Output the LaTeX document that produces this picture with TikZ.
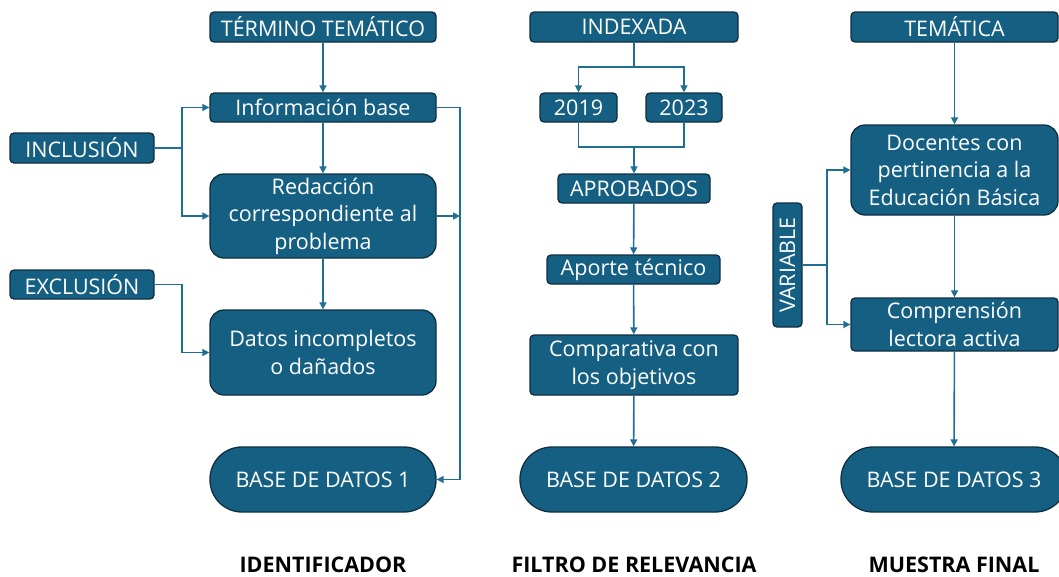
\documentclass[tikz,border=0pt]{standalone}
\usepackage{fontspec}
\setmainfont{Open Sans}
\usepackage{graphicx}
\usetikzlibrary{arrows.meta}
\definecolor{boxfill}{HTML}{156082}
\definecolor{boxline}{HTML}{0E2F42}
\definecolor{conncol}{HTML}{1F6E94}
\tikzset{
  box/.style={draw=boxline, line width=1.3pt, fill=boxfill, text=white, inner sep=0pt,
    align=center, font=\fontsize{21.5}{27.5}\selectfont},
  sbox/.style={box, rounded corners=4pt},
  bbox/.style={box, rounded corners=14pt},
  dbbox/.style={box, rounded corners=32pt},
  line/.style={draw=conncol, line width=1.6pt},
  conn/.style={line, -{Triangle[length=7pt,width=7pt]}},
  lbl/.style={font=\fontsize{21.5}{24}\selectfont\bfseries, text=black}
}
\begin{document}
\begin{tikzpicture}[x=1pt,y=-1pt]
\useasboundingbox (0,0) rectangle (1059,576);
\clip (0,0) rectangle (1059,576);
% column 1
\node[sbox, minimum width=226, minimum height=30] (t1) at (323,27) {TÉRMINO TEMÁTICO};
\node[sbox, minimum width=226, minimum height=29] (ib) at (323,107.5) {Información base};
\node[sbox, minimum width=144, minimum height=30] (inc) at (82,148) {INCLUSIÓN};
\node[bbox, minimum width=226, minimum height=84] (red) at (323,216) {Redacción\\correspondiente al\\problema};
\node[sbox, minimum width=144, minimum height=29] (exc) at (82,284.5) {EXCLUSIÓN};
\node[bbox, minimum width=226, minimum height=85] (dat) at (323,352.5) {Datos incompletos\\o dañados};
\node[dbbox, minimum width=226, minimum height=65] (b1) at (323,479.5) {BASE DE DATOS 1};
\node[lbl] (l1) at (323,565) {IDENTIFICADOR};
\coordinate (j1) at (182,148);
\coordinate (j2) at (182,284.5);
\coordinate (r1) at (460,107.5);
\coordinate (r2) at (460,216);
\draw[conn] (t1) -- (ib);
\draw[conn] (ib) -- (red);
\draw[conn] (red) -- (dat);
\draw[line] (inc.east) -- (j1);
\draw[conn] (j1) |- (ib.west);
\draw[conn] (j1) |- (red.west);
\draw[conn] (exc.east) -- (j2) |- (dat.west);
\draw[conn] (ib.east) -- (r1) |- (b1.east);
\draw[conn] (red.east) -- (r2);
% column 2
\node[sbox, minimum width=208, minimum height=30] (idx) at (634,27) {INDEXADA};
\node[sbox, minimum width=77, minimum height=29] (y19) at (578.5,107.5) {2019};
\node[sbox, minimum width=76, minimum height=29] (y23) at (684,107.5) {2023};
\node[sbox, minimum width=152, minimum height=29] (apr) at (634,188.5) {APROBADOS};
\node[sbox, minimum width=173, minimum height=29] (apt) at (633.5,269.5) {Aporte técnico};
\node[sbox, minimum width=208, minimum height=60] (cmp) at (634,365) {Comparativa con\\los objetivos};
\node[dbbox, minimum width=227, minimum height=65] (b2) at (633.5,479.5) {BASE DE DATOS 2};
\node[lbl] (l2) at (634,565) {FILTRO DE RELEVANCIA};
\coordinate (s1) at (634,67);
\coordinate (m1) at (634,147);
\draw[line] (idx) -- (s1);
\draw[conn] (s1) -| (y19);
\draw[conn] (s1) -| (y23);
\draw[line] (y19) |- (m1);
\draw[line] (y23) |- (m1);
\draw[conn] (m1) -- (apr);
\draw[conn] (apr) -- (apt);
\draw[conn] (apt) -- (cmp);
\draw[conn] (cmp) -- (b2);
% column 3
\node[sbox, minimum width=207, minimum height=30] (tem) at (954.5,27) {TEMÁTICA};
\node[bbox, minimum width=207, minimum height=90] (doc) at (954.5,170) {Docentes con\\pertinencia a la\\Educación Básica};
\node[sbox, minimum width=207, minimum height=53] (com) at (954.5,324.5) {Comprensión\\lectora activa};
\node[dbbox, minimum width=226, minimum height=65] (b3) at (954,479.5) {BASE DE DATOS 3};
\node[sbox, minimum width=29, minimum height=124] (var) at (787.5,265) {\rotatebox{90}{VARIABLE}};
\node[lbl] (l3) at (954,565) {MUESTRA FINAL};
\coordinate (v1) at (827,265);
\draw[conn] (tem) -- (doc);
\draw[conn] (doc) -- (com);
\draw[conn] (com) -- (b3);
\draw[line] (var.east) -- (v1);
\draw[conn] (v1) |- (doc.west);
\draw[conn] (v1) |- (com.west);
\end{tikzpicture}
\end{document}
